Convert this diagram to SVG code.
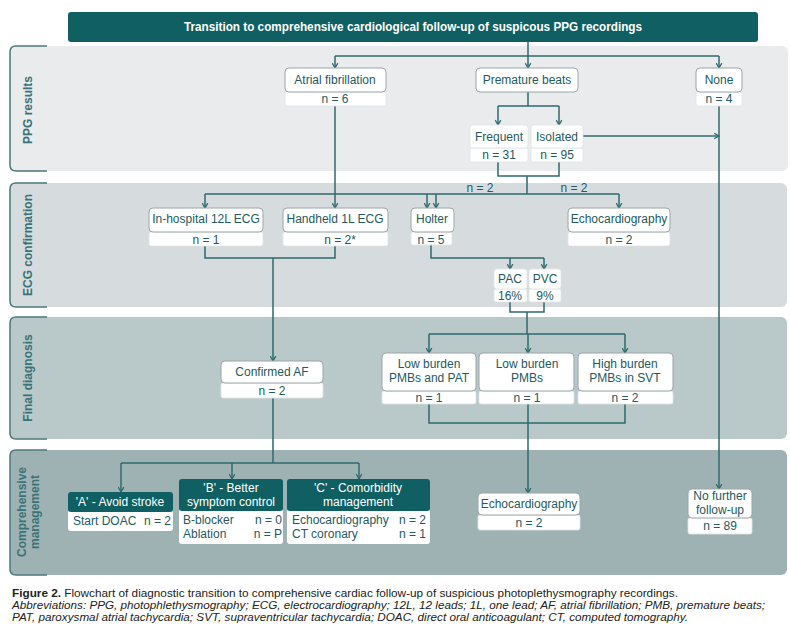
<svg xmlns="http://www.w3.org/2000/svg" width="790" height="629" viewBox="0 0 790 629">
<style>
  text { font-family: "Liberation Sans", Arial, sans-serif; }
  .t { font-size: 12px; fill: #245a5f; text-anchor: middle; }
  .tl { font-size: 12px; fill: #245a5f; }
  .tr { font-size: 12px; fill: #245a5f; text-anchor: end; }
  .th { font-size: 12px; fill: #ffffff; text-anchor: middle; }
  .band-label { font-size: 12px; font-weight: bold; fill: #3a7277; text-anchor: middle; }
  .box { fill: #ffffff; stroke: #9aa6a8; stroke-width: 1; }
  .nrow { fill: #ffffff; stroke: #dfe5e6; stroke-width: 0.8; }
  .head { fill: #0f5f63; }
  .conn { stroke: #2e6a6f; stroke-width: 1.5; fill: none; }
  .arr { marker-end: url(#ah); }
  .bracket { fill: none; stroke: #4d777b; stroke-width: 1.5; }
  .cap { font-size: 10px; fill: #222222; }
</style>
<defs>
  <marker id="ah" viewBox="0 0 10 10" refX="9" refY="5" markerWidth="7" markerHeight="7" orient="auto" markerUnits="userSpaceOnUse">
    <path d="M2,1 L9,5 L2,9" fill="none" stroke="#2e6a6f" stroke-width="1.8"/>
  </marker>
</defs>
<rect width="790" height="629" fill="#ffffff"/>

<!-- Bands -->
<g id="band-ppg">
  <rect x="10" y="46" width="778" height="125" rx="6" fill="#e9ebec"/>
  <path class="bracket" d="M47,46 H16 Q10,46 10,52 V165 Q10,171 16,171 H47"/>
  <text class="band-label" transform="translate(32,110) rotate(-90)">PPG results</text>
</g>
<g id="band-ecg">
  <rect x="10" y="183" width="777" height="124" rx="6" fill="#d6dcdd"/>
  <path class="bracket" d="M47,183 H16 Q10,183 10,189 V301 Q10,307 16,307 H47"/>
  <text class="band-label" transform="translate(32,245) rotate(-90)">ECG confirmation</text>
</g>
<g id="band-final">
  <rect x="10" y="317" width="777" height="122" rx="6" fill="#b9c8c9"/>
  <path class="bracket" d="M47,317 H16 Q10,317 10,323 V433 Q10,439 16,439 H47"/>
  <text class="band-label" transform="translate(32,378) rotate(-90)">Final diagnosis</text>
</g>
<g id="band-mgmt">
  <rect x="10" y="450" width="777" height="125" rx="6" fill="#9fb2b3"/>
  <path class="bracket" d="M47,450 H16 Q10,450 10,456 V569 Q10,575 16,575 H47"/>
  <text class="band-label" transform="translate(26,512) rotate(-90)">Comprehensive</text>
  <text class="band-label" transform="translate(39,512) rotate(-90)">management</text>
</g>

<!-- Title -->
<g id="title">
  <rect x="68" y="12" width="690" height="30" rx="3" fill="#0f5f63"/>
  <text x="413" y="31" font-size="12" font-weight="bold" fill="#ffffff" text-anchor="middle" textLength="458" lengthAdjust="spacingAndGlyphs">Transition to comprehensive cardiological follow-up of suspicous PPG recordings</text>
</g>

<!-- Connectors -->
<g id="connectors">
  <path class="conn arr" d="M528,42 V68"/>
  <path class="conn" d="M335,56 H719"/>
  <path class="conn arr" d="M335,56 V68"/>
  <path class="conn arr" d="M719,56 V68"/>
  <path class="conn" d="M528,92 V106 M498,106 H559"/>
  <path class="conn arr" d="M498,106 V125"/>
  <path class="conn arr" d="M559,106 V125"/>
  <path class="conn arr" d="M583,136 H719"/>
  <path class="conn arr" d="M719,106 V489"/>
  <path class="conn arr" d="M335,106 V208"/>
  <path class="conn" d="M498,162 V176 H559 V162 M527,176 V194 M205,194 H619"/>
  <path class="conn arr" d="M205,194 V208"/>
  <path class="conn arr" d="M427,194 V208"/>
  <path class="conn arr" d="M436,194 V208"/>
  <path class="conn arr" d="M619,194 V208"/>
  <path class="conn" d="M205,246 V258 H335 V246"/>
  <path class="conn arr" d="M273,258 V361"/>
  <path class="conn" d="M431,245 V258 H544"/>
  <path class="conn arr" d="M510,258 V269"/>
  <path class="conn arr" d="M544,258 V269"/>
  <path class="conn" d="M510,302 V312 H544 V302 M527,312 V334 M429,334 H625"/>
  <path class="conn arr" d="M429,334 V353"/>
  <path class="conn arr" d="M528,334 V353"/>
  <path class="conn arr" d="M625,334 V353"/>
  <path class="conn" d="M429,404 V423 H625 V404"/>
  <path class="conn arr" d="M528,404 V493"/>
  <path class="conn" d="M273,398 V463 M121,463 H359"/>
  <path class="conn arr" d="M121,463 V492"/>
  <path class="conn arr" d="M232,463 V479"/>
  <path class="conn arr" d="M359,463 V479"/>
  <text x="480" y="192" class="t">n = 2</text>
  <text x="574" y="192" class="t">n = 2</text>
</g>

<!-- PPG results nodes -->
<g id="node-af">
  <rect class="nrow" x="285" y="92" width="101" height="14" rx="2"/>
  <rect class="box" x="285" y="68" width="101" height="24" rx="4"/>
  <text class="t" x="335" y="84">Atrial fibrillation</text>
  <text class="t" x="335" y="103">n = 6</text>
</g>
<g id="node-pb">
  <rect class="box" x="476" y="68" width="102" height="24" rx="4"/>
  <text class="t" x="527" y="84">Premature beats</text>
</g>
<g id="node-none">
  <rect class="nrow" x="696" y="92" width="46" height="14" rx="2"/>
  <rect class="box" x="696" y="68" width="46" height="24" rx="4"/>
  <text class="t" x="719" y="84">None</text>
  <text class="t" x="719" y="103">n = 4</text>
</g>
<g id="node-frequent">
  <rect class="nrow" x="470" y="148" width="58" height="14" rx="2"/>
  <rect class="nrow" x="470" y="125" width="58" height="23" rx="3"/>
  <text class="t" x="499" y="141">Frequent</text>
  <text class="t" x="499" y="159">n = 31</text>
</g>
<g id="node-isolated">
  <rect class="nrow" x="531" y="148" width="52" height="14" rx="2"/>
  <rect class="nrow" x="531" y="125" width="52" height="23" rx="3"/>
  <text class="t" x="557" y="141">Isolated</text>
  <text class="t" x="557" y="159">n = 95</text>
</g>

<!-- ECG confirmation nodes -->
<g id="node-inhospital">
  <rect class="nrow" x="149" y="232" width="114" height="14" rx="2"/>
  <rect class="box" x="149" y="208" width="114" height="24" rx="4"/>
  <text class="t" x="206" y="223">In-hospital 12L ECG</text>
  <text class="t" x="206" y="244">n = 1</text>
</g>
<g id="node-handheld">
  <rect class="nrow" x="283" y="232" width="105" height="14" rx="2"/>
  <rect class="box" x="283" y="208" width="105" height="24" rx="4"/>
  <text class="t" x="335" y="223">Handheld 1L ECG</text>
  <text class="t" x="340" y="244">n = 2*</text>
</g>
<g id="node-holter">
  <rect class="nrow" x="411" y="232" width="41" height="13" rx="2"/>
  <rect class="box" x="411" y="208" width="43" height="24" rx="4"/>
  <text class="t" x="432" y="223">Holter</text>
  <text class="t" x="431" y="244">n = 5</text>
</g>
<g id="node-echo1">
  <rect class="nrow" x="568" y="232" width="102" height="14" rx="2"/>
  <rect class="box" x="568" y="208" width="102" height="24" rx="4"/>
  <text class="t" x="619" y="223">Echocardiography</text>
  <text class="t" x="619" y="244">n = 2</text>
</g>
<g id="node-pac">
  <rect class="nrow" x="494" y="289" width="33" height="13" rx="2"/>
  <rect class="nrow" x="494" y="269" width="33" height="20" rx="3"/>
  <text class="t" x="510" y="283">PAC</text>
  <text class="t" x="510" y="300">16%</text>
</g>
<g id="node-pvc">
  <rect class="nrow" x="529" y="289" width="32" height="13" rx="2"/>
  <rect class="nrow" x="529" y="269" width="32" height="20" rx="3"/>
  <text class="t" x="545" y="283">PVC</text>
  <text class="t" x="545" y="300">9%</text>
</g>

<!-- Final diagnosis nodes -->
<g id="node-confirmed-af">
  <rect class="nrow" x="221" y="383" width="102" height="15" rx="2"/>
  <rect class="box" x="221" y="361" width="102" height="22" rx="4"/>
  <text class="t" x="272" y="376">Confirmed AF</text>
  <text class="t" x="272" y="395">n = 2</text>
</g>
<g id="node-lb-pat">
  <rect class="nrow" x="382" y="391" width="94" height="13" rx="2"/>
  <rect class="box" x="382" y="353" width="94" height="38" rx="4"/>
  <text class="t" x="429" y="368">Low burden</text>
  <text class="t" x="429" y="382">PMBs and PAT</text>
  <text class="t" x="429" y="402">n = 1</text>
</g>
<g id="node-lb-pmb">
  <rect class="nrow" x="479" y="391" width="95" height="13" rx="2"/>
  <rect class="box" x="479" y="353" width="95" height="38" rx="4"/>
  <text class="t" x="527" y="368">Low burden</text>
  <text class="t" x="527" y="382">PMBs</text>
  <text class="t" x="527" y="402">n = 1</text>
</g>
<g id="node-hb-svt">
  <rect class="nrow" x="578" y="391" width="95" height="13" rx="2"/>
  <rect class="box" x="578" y="353" width="95" height="38" rx="4"/>
  <text class="t" x="625" y="368">High burden</text>
  <text class="t" x="625" y="382">PMBs in SVT</text>
  <text class="t" x="625" y="402">n = 2</text>
</g>

<!-- Comprehensive management nodes -->
<g id="node-a">
  <rect fill="#ffffff" x="68" y="510" width="105" height="21" rx="3"/>
  <rect class="head" x="68" y="492" width="105" height="20" rx="3"/>
  <text class="th" x="120" y="506">'A' - Avoid stroke</text>
  <text class="tl" x="73" y="525">Start DOAC</text>
  <text class="tr" x="171" y="525">n = 2</text>
</g>
<g id="node-b">
  <rect fill="#ffffff" x="179" y="509" width="104" height="35" rx="3"/>
  <rect class="head" x="179" y="479" width="104" height="32" rx="3"/>
  <text class="th" x="231" y="492">'B' - Better</text>
  <text class="th" x="231" y="506">symptom control</text>
  <text class="tl" x="183" y="524">B-blocker</text>
  <text class="tr" x="282" y="524">n = 0</text>
  <text class="tl" x="183" y="538">Ablation</text>
  <text class="tr" x="282" y="538">n = P</text>
</g>
<g id="node-c">
  <rect fill="#ffffff" x="287" y="509" width="143" height="35" rx="3"/>
  <rect class="head" x="287" y="479" width="143" height="32" rx="3"/>
  <text class="th" x="358" y="492">'C' - Comorbidity</text>
  <text class="th" x="358" y="506">management</text>
  <text class="tl" x="292" y="524">Echocardiography</text>
  <text class="tr" x="426" y="524">n = 2</text>
  <text class="tl" x="292" y="538">CT coronary</text>
  <text class="tr" x="426" y="538">n = 1</text>
</g>
<g id="node-echo2">
  <rect class="nrow" x="478" y="515" width="102" height="15" rx="2"/>
  <rect class="box" x="478" y="493" width="102" height="22" rx="4"/>
  <text class="t" x="529" y="508">Echocardiography</text>
  <text class="t" x="529" y="527">n = 2</text>
</g>
<g id="node-nofollow">
  <rect class="nrow" x="688" y="518" width="64" height="16" rx="2"/>
  <rect class="box" x="688" y="489" width="64" height="29" rx="4"/>
  <text class="t" x="720" y="500">No further</text>
  <text class="t" x="720" y="514">follow-up</text>
  <text class="t" x="720" y="530">n = 89</text>
</g>

<!-- Caption -->
<g id="caption">
  <text class="cap" x="12" y="597" textLength="666" lengthAdjust="spacingAndGlyphs"><tspan font-weight="bold">Figure 2.</tspan> Flowchart of diagnostic transition to comprehensive cardiac follow-up of suspicious photoplethysmography recordings.</text>
  <text class="cap" x="12" y="609" font-style="italic" textLength="753" lengthAdjust="spacingAndGlyphs">Abbreviations: PPG, photophlethysmography; ECG, electrocardiography; 12L, 12 leads; 1L, one lead; AF, atrial fibrillation; PMB, premature beats;</text>
  <text class="cap" x="12" y="621" font-style="italic" textLength="676" lengthAdjust="spacingAndGlyphs">PAT, paroxysmal atrial tachycardia; SVT, supraventricular tachycardia; DOAC, direct oral anticoagulant; CT, computed tomography.</text>
</g>
</svg>
